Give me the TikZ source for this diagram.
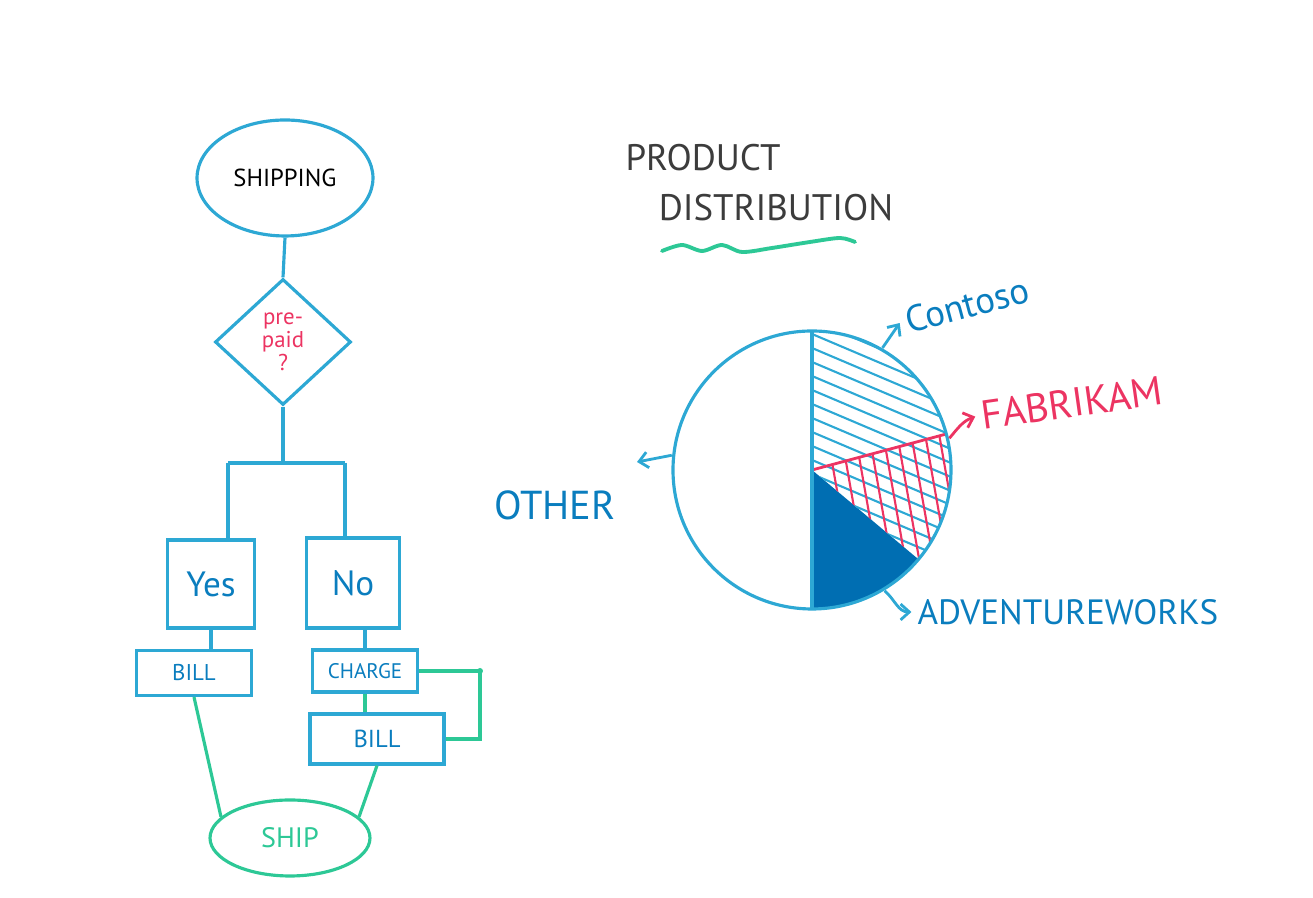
\documentclass[tikz,border=0pt]{standalone}
\usepackage{fontspec}
\setmainfont{PT Sans}
\usepackage{tikz}
\usetikzlibrary{arrows.meta,shapes.geometric,calc,positioning}
\definecolor{LineBlue}{RGB}{45,168,212}
\definecolor{TextBlue}{RGB}{10,125,190}
\definecolor{DarkFill}{RGB}{0,110,178}
\definecolor{InkGreen}{RGB}{45,200,150}
\definecolor{InkRed}{RGB}{236,52,98}
\definecolor{InkGray}{RGB}{60,60,60}
\tikzset{
  flowline/.style={line width=1.8pt,LineBlue},
  greenline/.style={line width=1.8pt,InkGreen},
  flowbox/.style={draw=LineBlue,line width=1.8pt,rectangle,inner sep=0pt,text=TextBlue},
  hatchline/.style={line width=1.2pt},
  piearrow/.style={->,line width=1.6pt},
}
\newcommand{\fsz}[1]{\fontsize{#1}{#1}\selectfont}

\begin{document}
\begin{tikzpicture}[x=0.02cm,y=0.02cm,>={Straight Barb[length=5pt,width=9pt]}]
      \useasboundingbox (0,0) rectangle (1313,898);
      % flow chart
      \node[draw=LineBlue,line width=1.8pt,ellipse,minimum width=3.52cm,minimum height=2.32cm,inner sep=0pt,text=black,font=\fsz{14}] (shipping) at (285,720) {SHIPPING};
      \node[draw=LineBlue,line width=1.8pt,diamond,minimum width=2.72cm,minimum height=2.52cm,inner sep=0pt,align=center,text=InkRed,font=\fsz{13}] (prepaid) at (283,556) {pre-\\paid\\?};
      \coordinate (split) at (283,435);
      \coordinate (splitL) at (228,435);
      \coordinate (splitR) at (345,435);
      \node[flowbox,minimum width=1.74cm,minimum height=1.76cm,font=\fsz{20}] (yes) at (211,314) {Yes};
      \node[flowbox,minimum width=1.86cm,minimum height=1.8cm,font=\fsz{20}] (no) at (353,315) {No};
      \node[flowbox,minimum width=2.3cm,minimum height=0.9cm,font=\fsz{13}] (billL) at (194,225) {BILL};
      \node[flowbox,minimum width=2.1cm,minimum height=0.84cm,font=\fsz{12}] (charge) at (365,227) {CHARGE};
      \node[flowbox,minimum width=2.68cm,minimum height=1cm,font=\fsz{14}] (billR) at (377,159) {BILL};
      \node[draw=InkGreen,line width=1.8pt,ellipse,minimum width=3.2cm,minimum height=1.52cm,inner sep=0pt,text=InkGreen,font=\fsz{16}] (ship) at (290,60) {SHIP};
      \draw[flowline] (shipping.south) -- (prepaid.north);
      \draw[flowline] (prepaid.south) -- (split);
      \draw[flowline] (splitL) -- (splitR);
      \draw[flowline] (splitL) -- (splitL |- yes.north);
      \draw[flowline] (splitR) -- (splitR |- no.north);
      \draw[flowline] (yes.south) -- (yes.south |- billL.north);
      \draw[flowline] (charge.north |- no.south) -- (charge.north);
      \draw[greenline] (charge.south) -- (charge.south |- billR.north);
      \coordinate (loop) at (480,227);
      \draw[greenline] (charge.east) -- (loop) -- (loop |- billR.east) -- (billR.east);
      \fill[InkGreen] (loop) circle (3);
      \draw[greenline] (billL.south) -- (ship.163);
      \draw[greenline] (billR.south) -- (ship.17);
      % pie chart
      \node[text=InkGray,font=\fsz{21}] (title1) at (703,740) {PRODUCT};
      \node[text=InkGray,font=\fsz{21}] (title2) at (776,690) {DISTRIBUTION};
      \draw[greenline,line width=2.2pt,line cap=round] plot[smooth] coordinates {(662,647) (682,653) (702,647) (722,653) (742,646) (772,650) (810,656) (840,660) (855,656)};
      \coordinate (pie) at (812,428);
      \def\pr{139}
      \fill[DarkFill] (pie) -- ++(-90:\pr) arc(-90:-40:\pr) -- cycle;
      \begin{scope}
        \clip (pie) -- ++(90:\pr) arc(90:-40:\pr) -- cycle;
        \foreach \k in {0,...,18}{\draw[hatchline,LineBlue] ($(pie)+(0,150-\k*14)$) -- ++(-23:170);}
      \end{scope}
      \begin{scope}
        \clip (pie) -- ++(15:\pr) arc(15:-40:\pr) -- cycle;
        \foreach \k in {0,...,10}{\draw[hatchline,InkRed] (826+\k*14,470) -- ++(-80:170);}
      \end{scope}
      \draw[InkRed,line width=1.6pt] (pie) -- ++(15:\pr);
      \draw[flowline] (pie) circle (\pr);
      \draw[flowline] ($(pie)+(90:\pr)$) -- ($(pie)+(-90:\pr)$);
      % labels
      \node[text=TextBlue,font=\fsz{21},rotate=15] (contoso) at (967,593) {Contoso};
      \node[text=InkRed,font=\fsz{23},rotate=8] (fabrikam) at (1072,495) {FABRIKAM};
      \node[text=TextBlue,font=\fsz{20}] (adventure) at (1068,286) {ADVENTUREWORKS};
      \node[text=TextBlue,font=\fsz{23}] (other) at (555,393) {OTHER};
      \coordinate (contosoTail) at ($(pie)+(60:141)$);
      \coordinate (fabrikamTail) at ($(pie)+(13:141)$);
      \coordinate (adventureTail) at ($(pie)+(-59:141)$);
      \coordinate (otherTail) at ($(pie)+(174:141)$);
      \coordinate (otherTip) at (637,436);
      \draw[piearrow,LineBlue] (contosoTail) -- (contoso.west);
      \draw[piearrow,InkRed] (fabrikamTail) to[out=50,in=200] (fabrikam.west);
      \draw[piearrow,LineBlue] (adventureTail) to[out=-40,in=180] (adventure.west);
      \draw[piearrow,LineBlue] (otherTail) -- (otherTip);
    \end{tikzpicture}
\end{document}
